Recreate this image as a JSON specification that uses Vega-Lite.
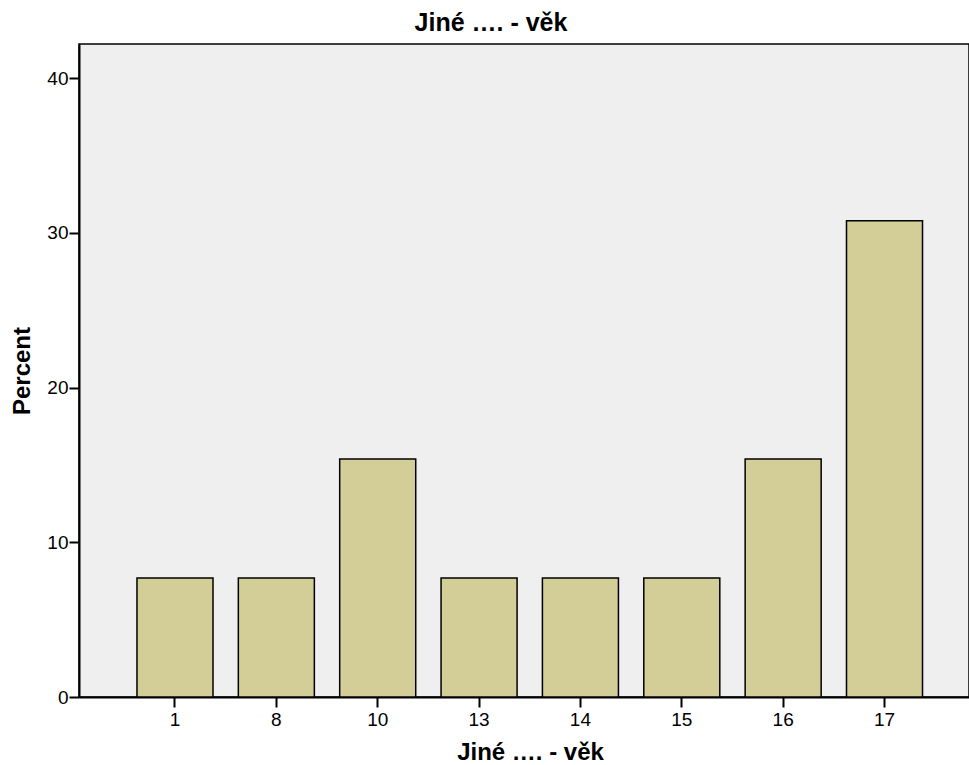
{
  "$schema": "https://vega.github.io/schema/vega-lite/v6.json",
  "autosize": {"type": "none"},
  "padding": {"left": 79, "top": 44, "right": 0, "bottom": 68},
  "width": 890,
  "height": 653,
  "background": "white",
  "title": {
    "text": "Jiné …. - věk",
    "font": "Liberation Sans",
    "fontSize": 25,
    "fontWeight": "bold",
    "color": "#000",
    "anchor": "middle",
    "dx": -33,
    "offset": 8
  },
  "config": {
    "view": {"fill": "#efefef", "stroke": "#000", "strokeWidth": 1.5},
    "axis": {
      "labelFont": "Liberation Sans",
      "titleFont": "Liberation Sans",
      "labelFontSize": 19,
      "labelColor": "#000",
      "titleColor": "#000",
      "domainColor": "#000",
      "tickColor": "#000",
      "grid": false
    }
  },
  "data": {
    "values": [
      {"age": "1", "percent": 7.69},
      {"age": "8", "percent": 7.69},
      {"age": "10", "percent": 15.38},
      {"age": "13", "percent": 7.69},
      {"age": "14", "percent": 7.69},
      {"age": "15", "percent": 7.69},
      {"age": "16", "percent": 15.38},
      {"age": "17", "percent": 30.77}
    ]
  },
  "mark": {"type": "bar", "fill": "#d3ce98", "stroke": "#000", "strokeWidth": 1.5},
  "encoding": {
    "x": {
      "field": "age",
      "type": "ordinal",
      "sort": ["1", "8", "10", "13", "14", "15", "16", "17"],
      "scale": {"range": [0, 901.5], "paddingInner": 0.25, "paddingOuter": 0.572},
      "axis": {
        "title": "Jiné …. - věk",
        "titleFontSize": 24,
        "titleFontWeight": "bold",
        "titleX": 451,
        "titlePadding": 11,
        "labelFontSize": 19,
        "labelAngle": 0,
        "labelPadding": 3,
        "tickSize": 10,
        "tickWidth": 2,
        "domainWidth": 2
      }
    },
    "y": {
      "field": "percent",
      "type": "quantitative",
      "scale": {"domain": [0, 42.2], "nice": false},
      "axis": {
        "title": "Percent",
        "titleFontSize": 24,
        "titleFontWeight": "bold",
        "titlePadding": 12,
        "values": [0, 10, 20, 30, 40],
        "labelFontSize": 19,
        "labelPadding": 1,
        "tickSize": 10,
        "tickWidth": 2,
        "domainWidth": 2
      }
    }
  }
}
